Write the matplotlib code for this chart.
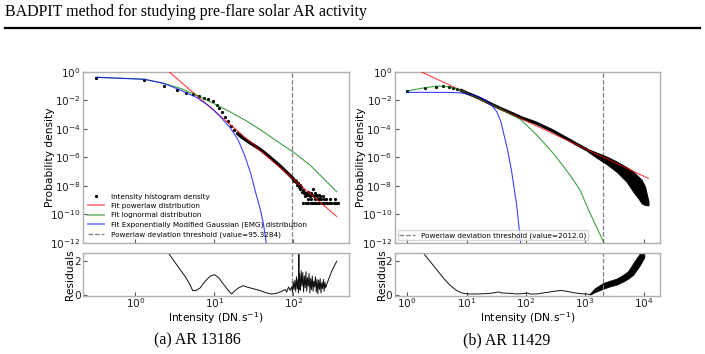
import numpy as np
import matplotlib
matplotlib.use("Agg")
import matplotlib.pyplot as plt
from matplotlib.ticker import FixedLocator, LogFormatterSciNotation, NullLocator
from matplotlib.lines import Line2D

# ------------------------------------------------------------------
# Data (stored as log10 values)
# ------------------------------------------------------------------
# ---------- Panel (a) AR 13186 ----------
a_threshold = 95.3284
# sparse histogram points
a_pts_lx = [-0.498, 0.114, 0.363, 0.523, 0.637, 0.734, 0.806, 0.865, 0.925, 0.980,
            1.030, 1.060, 1.095, 1.135, 1.175, 1.215, 1.253, 1.290, 1.320]
a_pts_ly = [-0.40, -0.54, -0.98, -1.24, -1.45, -1.55, -1.66, -1.80, -1.90, -2.03,
            -2.32, -2.55, -2.83, -3.15, -3.47, -3.77, -4.05, -4.30, -4.45]
# dense part of the histogram (points merge into a band)
a_dense_lx = [1.300, 1.346, 1.410, 1.494, 1.578, 1.662, 1.747, 1.831, 1.916, 1.979, 2.000]
a_dense_ly = [-4.35, -4.58, -4.82, -5.12, -5.42, -5.78, -6.18, -6.58, -7.04, -7.38, -7.50]
# noisy tail of the histogram
a_tail_lx = [2.00, 2.01, 2.02, 2.03, 2.04, 2.05, 2.06, 2.07, 2.08, 2.09, 2.10, 2.11, 2.12,
             2.13, 2.14, 2.15, 2.16, 2.17, 2.18, 2.19, 2.20, 2.21, 2.22, 2.23, 2.24, 2.25,
             2.26, 2.27, 2.28, 2.29, 2.30, 2.31, 2.32, 2.33, 2.34, 2.35, 2.37, 2.39, 2.41,
             2.46, 2.53,
             2.12, 2.16, 2.19, 2.22, 2.25, 2.28, 2.30, 2.33, 2.36, 2.38, 2.40, 2.43, 2.45,
             2.48, 2.51, 2.53, 2.55, 2.57]
a_tail_ly = [-7.50, -7.62, -7.55, -7.75, -7.68, -7.90, -7.80, -8.05, -7.95, -8.20, -8.10,
             -8.40, -8.25, -8.51, -8.43, -8.73, -8.51, -8.61, -8.91, -8.43, -8.61, -8.73,
             -8.51, -8.91, -8.61, -8.21, -8.73, -8.51, -8.91, -8.61, -8.73, -8.91, -8.61,
             -8.91, -8.73, -8.91, -8.73, -8.91, -8.91, -8.91, -8.91,
             -9.21, -9.21, -9.21, -9.21, -9.21, -9.21, -9.21, -9.21, -9.21, -9.21, -9.21,
             -9.21, -9.21, -9.21, -9.21, -9.21, -9.21, -9.21]
# fitted curves
a_pow_lx = [0.430, 2.549]
a_pow_ly = [0.00, -10.14]
a_logn_lx = [-0.498, 0.114, 0.363, 0.565, 0.819, 0.987, 1.198, 1.410, 1.620, 1.831, 2.000, 2.211, 2.549]
a_logn_ly = [-0.37, -0.51, -0.80, -1.14, -1.73, -2.20, -2.79, -3.44, -4.19, -5.00, -5.62, -6.53, -8.40]
a_emg_lx = [-0.498, 0.114, 0.360, 0.565, 0.780, 0.950, 1.070, 1.200, 1.300, 1.380, 1.460,
            1.520, 1.580, 1.620, 1.660]
a_emg_ly = [-0.37, -0.51, -0.80, -1.26, -1.80, -2.45, -3.10, -3.90, -4.75, -5.80, -7.10,
            -8.40, -9.60, -10.60, -12.10]
# residuals
a_res_lx = [0.363, 0.418, 0.523, 0.629, 0.692, 0.726, 0.768, 0.819, 0.882, 0.945, 1.000,
            1.050, 1.114, 1.177, 1.220, 1.262, 1.304, 1.367, 1.409, 1.494, 1.578, 1.662,
            1.726, 1.789, 1.852, 1.900, 1.915, 1.940, 1.960, 1.979,
            1.99, 2.00, 2.01, 2.02, 2.03, 2.04, 2.05, 2.06, 2.065, 2.07, 2.075, 2.08, 2.09,
            2.10, 2.11, 2.12, 2.13, 2.14, 2.15, 2.16, 2.17, 2.18, 2.19, 2.20, 2.21, 2.22,
            2.23, 2.24, 2.25, 2.26, 2.27, 2.28, 2.29, 2.30, 2.31, 2.32, 2.33, 2.34, 2.35,
            2.36, 2.37, 2.38, 2.39, 2.40, 2.41, 2.422, 2.485, 2.549]
a_res_v = [3.00, 2.45, 1.76, 1.08, 0.59, 0.24, 0.24, 0.39, 0.78, 1.08, 1.18,
           1.02, 0.63, 0.24, 0.04, 0.24, 0.39, 0.53, 0.45, 0.35, 0.24, 0.10,
           0.04, 0.08, 0.20, 0.30, 0.15, 0.45, 0.25, 0.45,
           0.15, 0.75, 0.30, 0.85, 0.20, 1.05, 0.35, 0.90, 0.10, 2.60, 0.30, 1.20, 0.25,
           1.40, 0.50, 1.30, 0.15, 1.10, 0.40, 1.35, 0.20, 1.00, 0.50, 1.25, 0.10, 0.95,
           0.30, 1.10, 0.20, 0.80, 0.45, 1.05, 0.15, 0.90, 0.05, 0.85, 0.30, 0.95, 0.10,
           0.70, 0.35, 0.90, 0.20, 0.75, 0.40, 0.59, 1.37, 1.96]

# ---------- Panel (b) AR 11429 ----------
b_threshold = 2012.0
b_pts_lx = [0.000, 0.301, 0.477, 0.602, 0.699, 0.778, 0.845, 0.903]
b_pts_ly = [-1.33, -1.15, -1.05, -1.01, -1.04, -1.10, -1.19, -1.28]
b_dense_lx = [0.903, 0.954, 1.000, 1.087, 1.256, 1.424, 1.593, 1.762, 1.931, 2.100,
              2.184, 2.295, 2.464, 2.633, 2.746, 2.850, 3.028]
b_dense_ly = [-1.28, -1.38, -1.47, -1.61, -1.92, -2.27, -2.60, -2.90, -3.22, -3.47,
              -3.60, -3.82, -4.15, -4.55, -4.80, -5.05, -5.45]
b_band_lx = [3.028, 3.196, 3.365, 3.534, 3.703, 3.815, 3.900, 3.956, 4.012, 4.070]
b_band_hi = [-5.38, -5.66, -5.94, -6.29, -6.69, -7.00, -7.35, -7.58, -8.05, -9.10]
b_band_lo = [-5.52, -6.01, -6.46, -7.00, -7.70, -8.40, -8.86, -9.21, -9.33, -9.35]
b_pow_lx = [0.242, 4.068]
b_pow_ly = [0.00, -7.46]
b_logn_lx = [0.000, 0.299, 0.524, 0.692, 0.861, 1.030, 1.256, 1.480, 1.705, 1.902,
             2.184, 2.464, 2.746, 2.915, 3.055, 3.140, 3.320]
b_logn_ly = [-1.33, -1.10, -0.98, -1.03, -1.22, -1.54, -1.96, -2.39, -2.90, -3.30,
             -4.42, -5.71, -7.23, -8.28, -9.64, -10.40, -12.00]
b_emg_lx = [0.000, 0.300, 0.600, 0.861, 1.030, 1.200, 1.310, 1.424, 1.509, 1.580,
            1.637, 1.694, 1.761, 1.845, 1.913]
b_emg_ly = [-1.43, -1.43, -1.43, -1.45, -1.54, -1.73, -1.96, -2.32, -2.78, -3.50,
            -4.50, -5.50, -7.00, -9.32, -12.00]
b_res_lx = [0.200, 0.270, 0.383, 0.496, 0.608, 0.720, 0.834, 0.918, 1.030, 1.171, 1.340,
            1.453, 1.536, 1.590, 1.733, 1.846, 1.958, 2.015, 2.071, 2.184, 2.296, 2.408,
            2.521, 2.606, 2.690, 2.802, 2.915, 3.028, 3.084]
b_res_v = [3.00, 2.45, 1.96, 1.47, 0.98, 0.55, 0.24, 0.10, 0.04, 0.04, 0.06,
           0.10, 0.16, 0.10, 0.08, 0.04, 0.06, 0.10, 0.04, 0.04, 0.10, 0.16,
           0.22, 0.24, 0.20, 0.12, 0.06, 0.04, 0.00]
b_resband_lx = [3.084, 3.170, 3.310, 3.420, 3.530, 3.650, 3.730, 3.815, 3.930, 4.000]
b_resband_hi = [0.06, 0.39, 0.69, 0.82, 0.94, 1.18, 1.40, 1.86, 2.45, 2.60]
b_resband_lo = [0.00, 0.16, 0.35, 0.49, 0.59, 0.78, 0.95, 1.18, 1.76, 2.20]

# ------------------------------------------------------------------
def p10(a):
    return 10.0 ** np.asarray(a, dtype=float)

W, H = 705, 354
fig = plt.figure(figsize=(W / 100, H / 100), dpi=100)

def frac(x0, x1, ytop, ybot):
    return [x0 / W, 1 - ybot / H, (x1 - x0) / W, (ybot - ytop) / H]

SPINE = '#b0b0b0'
TICKLAB = 7.6
LAB = 7.7

def style(ax):
    for s in ax.spines.values():
        s.set_color(SPINE)
        s.set_linewidth(1.0)
    ax.tick_params(direction='in', length=3, width=0.8, color='#555555',
                   labelsize=TICKLAB, labelcolor='#222222', top=False, right=False, pad=2)
    ax.tick_params(which='minor', length=0)

BLACK = 'black'
RED = '#ff0000'
GREEN = '#008000'
BLUE = '#0000ff'
GRAY = '#808080'
ALPHA = 0.75

panels = [
    dict(x0=83.3, x1=349.0, xlim=(10 ** -0.659, 10 ** 2.705), xt=[1, 10, 100],
         pts=(a_pts_lx, a_pts_ly), dense=(a_dense_lx, a_dense_ly), tail=(a_tail_lx, a_tail_ly),
         band=None, pow=(a_pow_lx, a_pow_ly), logn=(a_logn_lx, a_logn_ly), emg=(a_emg_lx, a_emg_ly),
         thr=a_threshold, thr_txt='95.3284', res=(a_res_lx, a_res_v), resband=None,
         full_legend=True, caption='(a) AR 13186', capx=197),
    dict(x0=395.0, x1=660.0, xlim=(10 ** -0.208, 10 ** 4.265), xt=[1, 10, 100, 1000, 10000],
         pts=(b_pts_lx, b_pts_ly), dense=(b_dense_lx, b_dense_ly), tail=None,
         band=(b_band_lx, b_band_hi, b_band_lo), pow=(b_pow_lx, b_pow_ly),
         logn=(b_logn_lx, b_logn_ly), emg=(b_emg_lx, b_emg_ly),
         thr=b_threshold, thr_txt='2012.0', res=(b_res_lx, b_res_v),
         resband=(b_resband_lx, b_resband_hi, b_resband_lo), full_legend=False,
         caption='(b) AR 11429', capx=507),
]

for P in panels:
    ax = fig.add_axes(frac(P['x0'], P['x1'], 72, 243))
    axr = fig.add_axes(frac(P['x0'], P['x1'], 253, 295.5))
    for a in (ax, axr):
        a.set_xscale('log')
        a.set_xlim(*P['xlim'])
        style(a)
    ax.set_yscale('log')
    ax.set_ylim(1e-12, 1.0)

    h_pts, = ax.plot(p10(P['pts'][0]), p10(P['pts'][1]), 'o', color=BLACK, ms=2.3,
                     mew=0, label='Intensity histogram density', zorder=3)
    ax.plot(p10(P['dense'][0]), p10(P['dense'][1]), '-', color=BLACK, lw=2.3,
            solid_capstyle='round', zorder=3)
    if P['tail'] is not None:
        ax.plot(p10(P['tail'][0]), p10(P['tail'][1]), 'o', color=BLACK, ms=2.3, mew=0, zorder=3)
    if P['band'] is not None:
        bx, bh, bl = P['band']
        ax.fill_between(p10(bx), p10(bh), p10(bl), color=BLACK, lw=0.8, edgecolor=BLACK, zorder=3)
    h_pow, = ax.plot(p10(P['pow'][0]), p10(P['pow'][1]), '-', color=RED, lw=0.8, alpha=ALPHA,
                     label='Fit powerlaw distribution', zorder=4)
    h_logn, = ax.plot(p10(P['logn'][0]), p10(P['logn'][1]), '-', color=GREEN, lw=0.8, alpha=ALPHA,
                      label='Fit lognormal distribution', zorder=4)
    h_emg, = ax.plot(p10(P['emg'][0]), p10(P['emg'][1]), '-', color=BLUE, lw=0.8, alpha=ALPHA,
                     label='Fit Exponentially Modified Gaussian (EMG) distribution', zorder=4)
    thr_label = 'Powerlaw deviation threshold (value=%s)' % P['thr_txt']
    h_thr = ax.axvline(P['thr'], color=GRAY, ls='--', lw=0.9, label=thr_label, zorder=2)
    axr.axvline(P['thr'], color=GRAY, ls='--', lw=0.9, zorder=2)

    if P['full_legend']:
        leg = ax.legend(handles=[h_pts, h_pow, h_logn, h_emg, h_thr], loc='lower left',
                        fontsize=5.2, frameon=False, handlelength=2.1, handletextpad=1.0,
                        borderaxespad=0.3, labelspacing=0.45)
        for ln in leg.get_lines()[1:4]:
            ln.set_linewidth(1.3)
            ln.set_alpha(0.5)
    else:
        ax.legend(handles=[h_thr], loc='lower left', fontsize=5.2, frameon=True,
                  handlelength=2.1, handletextpad=0.9, borderaxespad=0.35, borderpad=0.25)

    ax.yaxis.set_major_locator(FixedLocator([1e-12, 1e-10, 1e-8, 1e-6, 1e-4, 1e-2, 1.0]))
    ax.yaxis.set_major_formatter(LogFormatterSciNotation())
    ax.yaxis.set_minor_locator(NullLocator())
    ax.xaxis.set_major_locator(FixedLocator(P['xt']))
    ax.xaxis.set_minor_locator(NullLocator())
    ax.tick_params(labelbottom=False)
    ax.set_ylabel('Probability density', fontsize=LAB)
    ax.yaxis.set_label_coords(-0.108, 0.5)

    axr.plot(p10(P['res'][0]), P['res'][1], '-', color='#111111', lw=0.7)
    if P['resband'] is not None:
        rx, rh, rl = P['resband']
        axr.fill_between(p10(rx), rh, rl, color=BLACK, lw=0.6, edgecolor=BLACK)
    axr.set_ylim(-0.05, 2.45)
    axr.yaxis.set_major_locator(FixedLocator([0, 2]))
    axr.xaxis.set_major_locator(FixedLocator(P['xt']))
    axr.xaxis.set_major_formatter(LogFormatterSciNotation())
    axr.xaxis.set_minor_locator(NullLocator())
    axr.tick_params(axis='x', pad=0.8)
    axr.set_ylabel('Residuals', fontsize=LAB)
    axr.yaxis.set_label_coords(-0.032, 0.5)
    axr.set_xlabel('Intensity (DN.s$^{-1}$)', fontsize=LAB)
    axr.xaxis.set_label_coords(0.5, -0.34)

    fig.text(P['capx'] / W, 1 - 340 / H, P['caption'], ha='center', va='center',
             family='Liberation Serif', fontsize=11.5)

fig.text(5 / W, 1 - 12 / H, 'BADPIT method for studying pre-flare solar AR activity',
         ha='left', va='center', family='Liberation Serif', fontsize=11.5)
fig.add_artist(Line2D([5 / W, 700 / W], [1 - 27.5 / H, 1 - 27.5 / H],
                      color='black', lw=1.6, transform=fig.transFigure))

fig.savefig('out.png', dpi=100)
